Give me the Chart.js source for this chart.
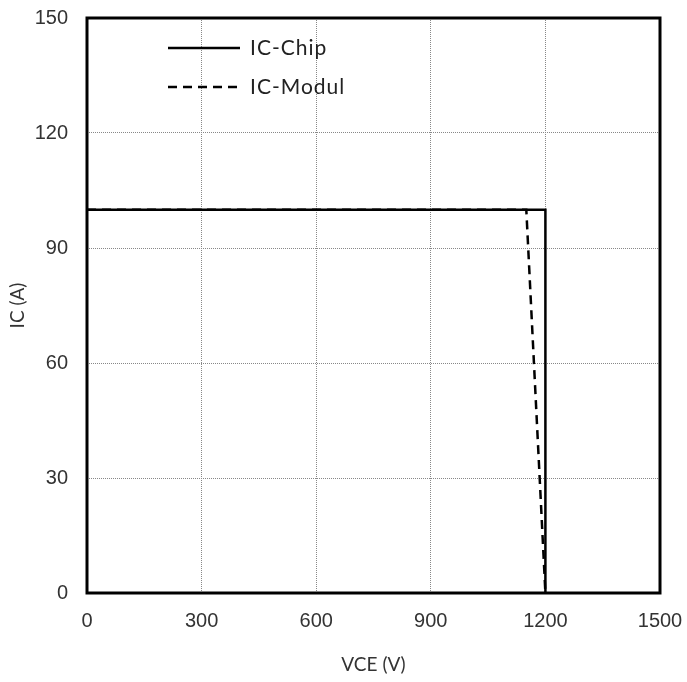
<!DOCTYPE html>
<html lang="de">
<head>
  <meta charset="UTF-8" />
  <title>IC - VCE</title>
  <script src="https://cdn.jsdelivr.net/npm/chart.js"></script>
  <style>
    html, body {
      margin: 0;
      padding: 0;
      background: #fff;
    }

    .chart-box {
      width: 687px;
      height: 682px;
    }
  </style>
</head>
<body>

  <div class="chart-box">
    <canvas id="socChart"></canvas>
  </div>

  <script>
    // safe operating area: chip limit vs. module limit
    const chipVce = [0, 1200, 1200];
    const chipIc = [100, 100, 0];
    const modulVce = [0, 1150, 1200];
    const modulIc = [100, 100, 0];

    const xTicks = [0, 300, 600, 900, 1200, 1500];
    const yTicks = [0, 30, 60, 90, 120, 150];

    const seriesNames = ['IC-Chip', 'IC-Modul'];

    const toPoints = (xs, ys) => xs.map((x, i) => ({ x: x, y: ys[i] }));

    const tickFont = { family: 'Liberation Sans, Arial, sans-serif', size: 20 };
    const titleFont = { family: 'Lato, Noto Sans, sans-serif', size: 19 };

    // thick frame around the plot area
    const frame = {
      id: 'frame',
      afterDatasetsDraw(chart) {
        const a = chart.chartArea;
        const ctx = chart.ctx;
        ctx.save();
        ctx.strokeStyle = '#000';
        ctx.lineWidth = 3;
        ctx.strokeRect(a.left, a.top, a.right - a.left, a.bottom - a.top);
        ctx.restore();
      }
    };

    // legend drawn inside the plot, top left
    const innerLegend = {
      id: 'innerLegend',
      afterDraw(chart) {
        const ctx = chart.ctx;
        ctx.save();
        ctx.font = '21px Lato, "Noto Sans", sans-serif';
        ctx.letterSpacing = '1px';
        ctx.textBaseline = 'middle';
        chart.data.datasets.forEach((ds, i) => {
          const y = 48 + i * 39;
          ctx.strokeStyle = ds.borderColor;
          ctx.lineWidth = ds.borderWidth;
          ctx.setLineDash(ds.borderDash || []);
          ctx.beginPath();
          ctx.moveTo(168, y);
          ctx.lineTo(240, y);
          ctx.stroke();
          ctx.setLineDash([]);
          ctx.fillStyle = '#222';
          ctx.fillText(ds.label, 250, y);
        });
        ctx.restore();
      }
    };

    const gridStyle = {
      color: '#888',
      lineWidth: 1,
      drawTicks: false
    };

    // no extra room for overhanging labels, the layout padding handles it
    const noPad = (s) => {
      s.paddingLeft = 0;
      s.paddingRight = 0;
      s.paddingTop = 0;
      s.paddingBottom = 0;
    };

    new Chart(document.getElementById('socChart'), {
      type: 'line',
      data: {
        datasets: [{
          label: seriesNames[0],
          data: toPoints(chipVce, chipIc),
          borderColor: '#000',
          borderWidth: 2.5,
          pointRadius: 0,
          fill: false,
          tension: 0
        }, {
          label: seriesNames[1],
          data: toPoints(modulVce, modulIc),
          borderColor: '#000',
          borderWidth: 2.5,
          borderDash: [9, 6],
          pointRadius: 0,
          fill: false,
          tension: 0
        }]
      },
      options: {
        responsive: true,
        maintainAspectRatio: false,
        animation: false,
        layout: { padding: { top: 18, right: 27, left: 0, bottom: 0 } },
        plugins: {
          legend: { display: false },
          tooltip: { enabled: false }
        },
        scales: {
          x: {
            type: 'linear',
            min: xTicks[0],
            max: xTicks[xTicks.length - 1],
            afterBuildTicks: (s) => { s.ticks = xTicks.map(v => ({ value: v })); },
            afterFit: (s) => { s.height = 89; noPad(s); },
            ticks: { color: '#333', font: tickFont, padding: 16, maxRotation: 0, callback: (v) => String(v) },
            grid: gridStyle,
            border: { display: false, dash: [1, 1] },
            title: { display: true, text: 'VCE (V)', color: '#333', font: titleFont, padding: { top: 0, bottom: 6 } }
          },
          y: {
            type: 'linear',
            min: yTicks[0],
            max: yTicks[yTicks.length - 1],
            afterBuildTicks: (s) => { s.ticks = yTicks.map(v => ({ value: v })); },
            afterFit: (s) => { s.width = 87; noPad(s); },
            ticks: { color: '#333', font: tickFont, padding: 19, callback: (v) => String(v) },
            grid: gridStyle,
            border: { display: false, dash: [1, 1] },
            title: { display: true, text: 'IC (A)', color: '#333', font: titleFont, padding: { top: 6, bottom: 0 } }
          }
        }
      },
      plugins: [frame, innerLegend]
    });
  </script>

</body>
</html>
